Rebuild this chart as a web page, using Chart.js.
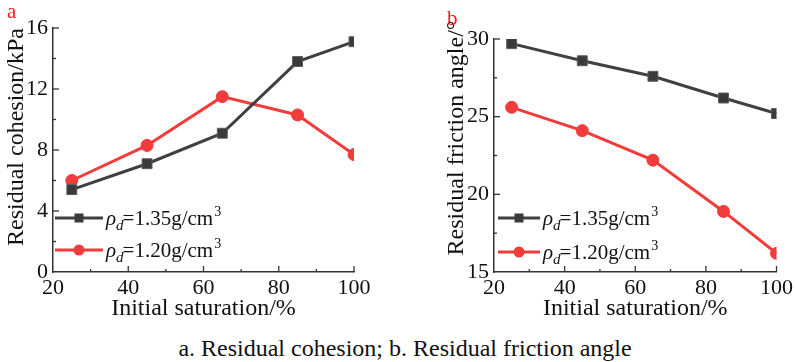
<!DOCTYPE html>
<html>
<head>
<meta charset="utf-8">
<script src="https://cdn.jsdelivr.net/npm/chart.js@4.4.1/dist/chart.umd.min.js"></script>
<style>
  body { margin: 0; background: #fff; width: 796px; height: 362px; position: relative; overflow: hidden; }
  #left { position: absolute; left: 0; top: 0; }
  #right { position: absolute; left: 400px; top: 0; }
  #caption {
    position: absolute; left: 0; top: 335px; width: 810px; text-align: center;
    font-family: 'Liberation Serif'; font-size: 24px; line-height: 27px; color: #111;
  }
</style>
</head>
<body>
<canvas id="left" width="400" height="330"></canvas>
<canvas id="right" width="396" height="330"></canvas>
<div id="caption">a. Residual cohesion; b. Residual friction angle</div>
<script>
// values
const saturation = [25, 45, 65, 85, 100];
const cohesion135 = [5.4, 7.1, 9.1, 13.8, 15.1];
const cohesion120 = [6.0, 8.3, 11.5, 10.3, 7.7];
const friction135 = [29.7, 28.6, 27.6, 26.2, 25.2];
const friction120 = [25.6, 24.1, 22.2, 18.9, 16.2];
const seriesLabels = ["1.35", "1.20"];

const serif = "'Liberation Serif'";
const grey = "#404040";
const red = "#f23b3b";

Chart.defaults.font.family = serif;

const toPoints = (ys) => saturation.map((x, i) => ({ x: x, y: ys[i] }));

// draws inner ticks, axis titles, panel letter and the rho legend
const decoPlugin = {
  id: "deco",
  afterDraw(chart, args, o) {
    const ctx = chart.ctx;
    const area = chart.chartArea;
    const xs = chart.scales.x;
    const ys = chart.scales.y;
    ctx.save();
    ctx.strokeStyle = "#333";
    ctx.lineWidth = 1.3;
    for (let v = xs.min + o.xMinor; v < xs.max + 0.01; v += o.xMinor) {
      const px = xs.getPixelForValue(v);
      const len = Math.abs((v - xs.min) % (2 * o.xMinor)) < 0.01 ? 6 : 3;
      ctx.beginPath();
      ctx.moveTo(px, area.bottom);
      ctx.lineTo(px, area.bottom - len);
      ctx.stroke();
    }
    for (let v = ys.min + o.yMinor; v < ys.max + 0.01; v += o.yMinor) {
      const py = ys.getPixelForValue(v);
      const len = Math.abs((v - ys.min) % (2 * o.yMinor)) < 0.01 ? 6 : 3;
      ctx.beginPath();
      ctx.moveTo(area.left, py);
      ctx.lineTo(area.left + len, py);
      ctx.stroke();
    }

    ctx.fillStyle = "#111";
    ctx.font = "24px " + serif;
    ctx.textAlign = "center";
    ctx.textBaseline = "alphabetic";
    ctx.fillText("Initial saturation/%", (area.left + area.right) / 2, 315);

    ctx.save();
    ctx.translate(o.yTitleX, o.yTitleY);
    ctx.rotate(-Math.PI / 2);
    ctx.textBaseline = "middle";
    ctx.fillText(o.yTitle, 0, 0);
    ctx.restore();

    ctx.fillStyle = "#ff1a1a";
    ctx.font = "21px " + serif;
    ctx.textAlign = "left";
    ctx.fillText(o.letter, o.letterX, o.letterY);

    // legend
    chart.data.datasets.forEach((ds, i) => {
      const y = o.legendY[i];
      ctx.strokeStyle = ds.borderColor;
      ctx.lineWidth = 3;
      ctx.beginPath();
      ctx.moveTo(o.legendX0, y);
      ctx.lineTo(o.legendX1, y);
      ctx.stroke();
      const mx = (o.legendX0 + o.legendX1) / 2;
      ctx.fillStyle = ds.pointBackgroundColor;
      if (ds.pointStyle === "rect") {
        ctx.fillRect(mx - 4.5, y - 4.5, 9, 9);
      } else {
        ctx.beginPath();
        ctx.arc(mx, y, 5.5, 0, Math.PI * 2);
        ctx.fill();
      }
      ctx.fillStyle = "#111";
      let tx = o.legendX1 + 3;
      const base = y + 7;
      ctx.font = "italic 21px " + serif;
      ctx.fillText("\u03c1", tx, base);
      tx += ctx.measureText("\u03c1").width;
      ctx.font = "italic 15px " + serif;
      ctx.fillText("d", tx, base + 5);
      tx += ctx.measureText("d").width - 1;
      ctx.font = "21px " + serif;
      const main = "=" + seriesLabels[i] + "g/cm";
      ctx.fillText(main, tx, base);
      tx += ctx.measureText(main).width + 1;
      ctx.font = "14px " + serif;
      ctx.fillText("3", tx, base - 9);
    });
    ctx.restore();
  },
};

function makeChart(id, first, second, yMin, yMax, yStep, deco, pad, yWidth) {
  const ctx = document.getElementById(id).getContext("2d");
  return new Chart(ctx, {
    type: "line",
    data: {
      datasets: [
        {
          label: "1.35",
          data: toPoints(first),
          borderColor: grey,
          borderWidth: 3,
          pointStyle: "rect",
          pointRadius: 7,
          pointBackgroundColor: "#3a3a3a",
          pointBorderColor: "#5a5a5a",
          pointBorderWidth: 1,
        },
        {
          label: "1.20",
          data: toPoints(second),
          borderColor: red,
          borderWidth: 3,
          pointStyle: "circle",
          pointRadius: 6,
          pointBackgroundColor: red,
          pointBorderColor: red,
          pointBorderWidth: 1,
        },
      ],
    },
    options: {
      responsive: false,
      animation: false,
      devicePixelRatio: 1,
      layout: { padding: pad },
      plugins: {
        legend: { display: false },
        tooltip: { enabled: false },
        deco: deco,
      },
      scales: {
        x: {
          type: "linear",
          min: 20,
          max: 100,
          afterFit: (s) => { s.height = 330 - 272; },
          grid: { display: false, drawTicks: false },
          border: { display: true, color: "#333", width: 1.5 },
          ticks: { stepSize: 20, padding: 3, color: "#111", font: { family: serif, size: 22 } },
        },
        y: {
          min: yMin,
          max: yMax,
          afterFit: (s) => { s.width = yWidth; },
          grid: { display: false, drawTicks: false },
          border: { display: true, color: "#333", width: 1.5 },
          ticks: { stepSize: yStep, padding: 5, color: "#111", font: { family: serif, size: 22 } },
        },
      },
    },
    plugins: [decoPlugin],
  });
}

makeChart("left", cohesion135, cohesion120, 0, 16, 4, {
  xMinor: 10, yMinor: 2,
  yTitle: "Residual cohesion/kPa", yTitleX: 17, yTitleY: 137,
  letter: "a", letterX: 7, letterY: 18,
  legendX0: 55, legendX1: 103, legendY: [218, 250],
}, { left: 0, top: 28, right: 46, bottom: 0 }, 53);

makeChart("right", friction135, friction120, 15, 30, 5, {
  xMinor: 10, yMinor: 2.5,
  yTitle: "Residual friction angle/\u00b0", yTitleX: 57, yTitleY: 138,
  letter: "b", letterX: 47, letterY: 25,
  legendX0: 98, legendX1: 140, legendY: [218, 252],
}, { left: 0, top: 39, right: 16, bottom: 0 }, 94);
</script>
</body>
</html>
